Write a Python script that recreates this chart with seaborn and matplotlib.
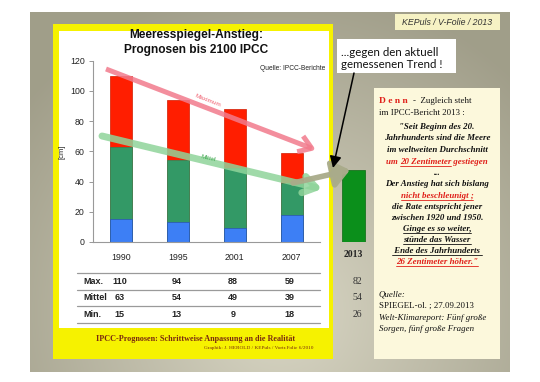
import numpy as np
import matplotlib
matplotlib.use("Agg")
import matplotlib.pyplot as plt
import seaborn as sns
import pandas as pd
from matplotlib.patches import Rectangle, FancyArrowPatch
from matplotlib import transforms

# ---------------- data ----------------
years = ["1990", "1995", "2001", "2007"]
max_vals = [110, 94, 88, 59]
mittel_vals = [63, 54, 49, 39]
min_vals = [15, 13, 9, 18]
year_2013 = ["2013"]
bar_2013 = [48]
table_2013 = [82, 54, 26]
row_labels = ["Max.", "Mittel", "Min."]
yticks = [0, 20, 40, 60, 80, 100, 120]

W, H = 540, 382
sns.set_theme(style="white")
plt.rcParams["font.family"] = ["Liberation Sans", "DejaVu Sans"]
SERIF = ["Liberation Serif", "DejaVu Serif"]

RED = "#ff1e00"
GREEN = "#339966"
BLUE = "#3d7ff5"
GREEN13 = "#0b8f1b"
CARD_RED = "#e0201a"

fig = plt.figure(figsize=(5.4, 3.82), dpi=100, facecolor="white")


def px_axes(l, t, r, b):
    return [l / W, 1 - b / H, (r - l) / W, (b - t) / H]


# ---------------- background (pixel coordinates) ----------------
bg = fig.add_axes([0, 0, 1, 1], zorder=-5)
bg.set_xlim(0, W)
bg.set_ylim(H, 0)
bg.axis("off")

yy, xx = np.mgrid[0:360, 0:480]
d = np.sqrt(((xx - 250) / 330) ** 2 + ((yy - 300) / 330) ** 2)
t = np.clip(d, 0, 1)[..., None]
c_in = np.array([0.85, 0.84, 0.77])
c_out = np.array([0.63, 0.62, 0.54])
img = c_in * (1 - t) + c_out * t
bg.imshow(img, extent=(30, 510, 372, 12), aspect="auto", origin="upper", zorder=0)
bg.set_xlim(0, W)
bg.set_ylim(H, 0)

bg.add_patch(Rectangle((53, 24), 280, 335, fc="#f6f200", ec="none", zorder=1))
bg.add_patch(Rectangle((59, 31), 270, 297, fc="white", ec="none", zorder=2))
bg.add_patch(Rectangle((374, 88), 126, 271, fc="#fcf8dc", ec="none", zorder=1))
bg.add_patch(Rectangle((395, 14), 105, 16, fc="#f6f2c4", ec="none", zorder=1))
bg.text(447, 22.5, "KEPuls / V-Folie / 2013", fontsize=6.3, style="italic",
        color="#333333", ha="center", va="center", zorder=3)

# chart title
bg.text(196, 35, "Meeresspiegel-Anstieg:", fontsize=8.6, fontweight="bold",
        ha="center", va="center", color="#111111", zorder=3)
bg.text(196, 50, "Prognosen bis 2100 IPCC", fontsize=8.6, fontweight="bold",
        ha="center", va="center", color="#111111", zorder=3)
bg.text(293, 68, "Quelle: IPCC-Berichte", fontsize=4.8, ha="center", va="center",
        color="#222222", zorder=3)

# caption in yellow strip
bg.text(196, 339, "IPCC-Prognosen: Schrittweise Anpassung an die Realität",
        fontsize=5.9, fontweight="bold", family=SERIF, color="#7a2a10",
        ha="center", va="center", zorder=3)
bg.text(313, 347.5, "Graphik: J. HEROLD / KEPuls / Vortr.Folie 6/2010",
        fontsize=3.8, family=SERIF, color="#7a2a10", ha="right", va="center", zorder=3)

# ---------------- main chart ----------------
ax = fig.add_axes(px_axes(93, 60.8, 320, 242), zorder=1)
ax.patch.set_alpha(0)
df = pd.DataFrame({"Jahr": years, "Max": max_vals, "Mittel": mittel_vals, "Min": min_vals})
sns.barplot(data=df, x="Jahr", y="Max", color=RED, width=0.39, saturation=1,
            errorbar=None, edgecolor="#d01a00", linewidth=0.5, ax=ax)
sns.barplot(data=df, x="Jahr", y="Mittel", color=GREEN, width=0.39, saturation=1,
            errorbar=None, edgecolor="#2c8a5a", linewidth=0.5, ax=ax)
sns.barplot(data=df, x="Jahr", y="Min", color=BLUE, width=0.39, saturation=1,
            errorbar=None, edgecolor="#2a55b0", linewidth=0.5, ax=ax)
ax.set_xlim(-0.5, 3.5)
ax.set_ylim(0, 120)
ax.set_yticks(yticks)
ax.set_xlabel("")
ax.set_ylabel("[cm]", fontsize=5.5, labelpad=3, color="#222222")
sns.despine(ax=ax)
for s in ("left", "bottom"):
    ax.spines[s].set_color("#999999")
    ax.spines[s].set_linewidth(0.8)
ax.tick_params(axis="y", left=True, length=3, width=0.6, color="#888888", pad=3,
               labelsize=6.3, labelcolor="#222222")
ax.tick_params(axis="x", bottom=False, length=0, pad=8, labelsize=6.3, labelcolor="#222222")

# 2013 measured bar
ax2 = fig.add_axes(px_axes(353.5 - 28.4, 60.8, 353.5 + 28.4, 242), zorder=1)
ax2.patch.set_alpha(0)
sns.barplot(x=year_2013, y=bar_2013, color=GREEN13, width=0.41, saturation=1,
            errorbar=None, edgecolor="#0a6a12", linewidth=0.5, ax=ax2)
ax2.set_xlim(-0.5, 0.5)
ax2.set_ylim(0, 120)
ax2.set_yticks([])
for s in ax2.spines.values():
    s.set_visible(False)
ax2.tick_params(axis="x", bottom=False, length=0, pad=6)
for lab in ax2.get_xticklabels():
    lab.set_fontfamily(SERIF)
    lab.set_fontweight("bold")
    lab.set_fontsize(7)
    lab.set_color("#222222")

# ---------------- table ----------------
for yl in (273, 289.5, 306, 322.5):
    bg.plot([77, 320], [yl, yl], color="#9a9a9a", lw=0.9, zorder=3)
row_y = [281.5, 298, 314.5]
tr = transforms.blended_transform_factory(ax.transData, bg.transData)
table_rows = [max_vals, mittel_vals, min_vals]
for lab, ry, vals in zip(row_labels, row_y, table_rows):
    bg.text(83, ry, lab, fontsize=6.5, fontweight="bold", ha="left", va="center",
            color="#222222", zorder=4)
    for i, v in enumerate(vals):
        bg.text(i - 0.03, ry, str(v), fontsize=6.5, fontweight="bold", ha="center",
                va="center", color="#222222", transform=tr, zorder=4)
for ry, v in zip(row_y, table_2013):
    bg.text(357, ry, str(v), fontsize=7, family=SERIF, ha="center", va="center",
            color="#333333", zorder=4)

# ---------------- overlay: arrows, callout ----------------
ov = fig.add_axes([0, 0, 1, 1], zorder=10)
ov.set_xlim(0, W)
ov.set_ylim(H, 0)
ov.axis("off")

ov.add_patch(FancyArrowPatch((106, 69), (316, 150),
                             arrowstyle="->,head_length=0.45,head_width=0.3",
                             mutation_scale=20, lw=3.6, color="#f27a8c", alpha=0.85,
                             shrinkA=0, shrinkB=0, capstyle="butt"))
ov.text(208, 101, "Maximum", fontsize=4.6, color="#f06070", rotation=-21,
        ha="center", va="center")

ov.add_patch(FancyArrowPatch((102, 136), (322, 189),
                             arrowstyle="->,head_length=0.45,head_width=0.3",
                             mutation_scale=20, lw=5, color="#8fd49a", alpha=0.85,
                             shrinkA=0, shrinkB=0))
ov.text(208, 158, "Mittel", fontsize=4.6, color="#40a850", rotation=-13,
        ha="center", va="center")

ov.add_patch(FancyArrowPatch((293, 183), (350, 170),
                             arrowstyle="-|>,head_length=0.5,head_width=0.4",
                             mutation_scale=20, lw=4.0, color="#a9ab8a", alpha=0.95,
                             shrinkA=0, shrinkB=0))

ov.add_patch(Rectangle((337, 39), 119, 34, fc="white", ec="none"))
ov.text(341, 52, "...gegen den aktuell", fontsize=8.3, family=["Lato", "DejaVu Sans"],
        ha="left", va="center", color="#111111")
ov.text(341, 65, "gemessenen Trend !", fontsize=8.3, family=["Lato", "DejaVu Sans"],
        ha="left", va="center", color="#111111")
ov.add_patch(FancyArrowPatch((354, 73), (333, 168),
                             arrowstyle="-|>,head_length=0.5,head_width=0.25",
                             mutation_scale=14, lw=1.1, color="black",
                             shrinkA=0, shrinkB=0))

# ---------------- card text ----------------
fig.canvas.draw()
R = fig.canvas.get_renderer()


def text_w(s, **kw):
    tt = ov.text(0, 0, s, **kw)
    w = tt.get_window_extent(R).width
    tt.remove()
    return w


def seg_w(s, **kw):
    return text_w("|" + s + "|", **kw) - text_w("||", **kw)


def draw_line(segs, x, y, center, **kw):
    widths = [seg_w(s, **kw) for s, c, u in segs]
    total = sum(widths)
    xc = x - total / 2 if center else x
    for (s, c, u), w in zip(segs, widths):
        ov.text(xc, y, s, color=c, ha="left", va="baseline", **kw)
        if u:
            ov.plot([xc, xc + w], [y + 1.6, y + 1.6], color=c, lw=0.6)
        xc += w
    return xc


base = dict(family=SERIF, fontsize=6.4)
bi = dict(family=SERIF, fontsize=6.4, fontweight="bold", style="italic")
K = "#111111"

denn = dict(family=SERIF, fontsize=6.8, fontweight="bold")
xe = draw_line([("D e n n", CARD_RED, False)], 379, 103, False, **denn)
ov.text(xe + 5, 103, "-  Zugleich steht", color=K, ha="left", va="baseline", **base)
draw_line([("im IPCC-Bericht 2013 :", K, False)], 379, 115, False, **base)

quote = [
    ([("\"Seit Beginn des 20.", K, False)], 129),
    ([("Jahrhunderts sind die Meere", K, False)], 140.5),
    ([("im weltweiten Durchschnitt", K, False)], 152),
    ([("um ", CARD_RED, False), ("20 Zentimeter", CARD_RED, True),
      (" gestiegen", CARD_RED, False)], 164),
    ([("...", K, False)], 175),
    ([("Der Anstieg hat sich bislang", K, False)], 186.5),
    ([("nicht beschleunigt ;", CARD_RED, True)], 198),
    ([("die Rate entspricht jener", K, False)], 209),
    ([("zwischen 1920 und 1950.", K, False)], 220),
    ([("Ginge es so weiter,", K, True)], 231),
    ([("stünde das Wasser", K, True)], 242),
    ([(" Ende des Jahrhunderts ", K, True)], 253),
    ([("26 Zentimeter höher.\"", CARD_RED, True)], 264),
]
for segs, y in quote:
    draw_line(segs, 437, y, True, **bi)

ov.text(379, 296, "Quelle:", color=K, style="italic", ha="left", va="baseline", **base)
ov.text(379, 308, "SPIEGEL-ol. ; 27.09.2013", color=K, ha="left", va="baseline", **base)
ov.text(379, 320, "Welt-Klimareport: Fünf große", color=K, style="italic",
        ha="left", va="baseline", **base)
ov.text(379, 331, "Sorgen, fünf große Fragen", color=K, style="italic",
        ha="left", va="baseline", **base)

fig.savefig("out.png", dpi=100, facecolor="white")
